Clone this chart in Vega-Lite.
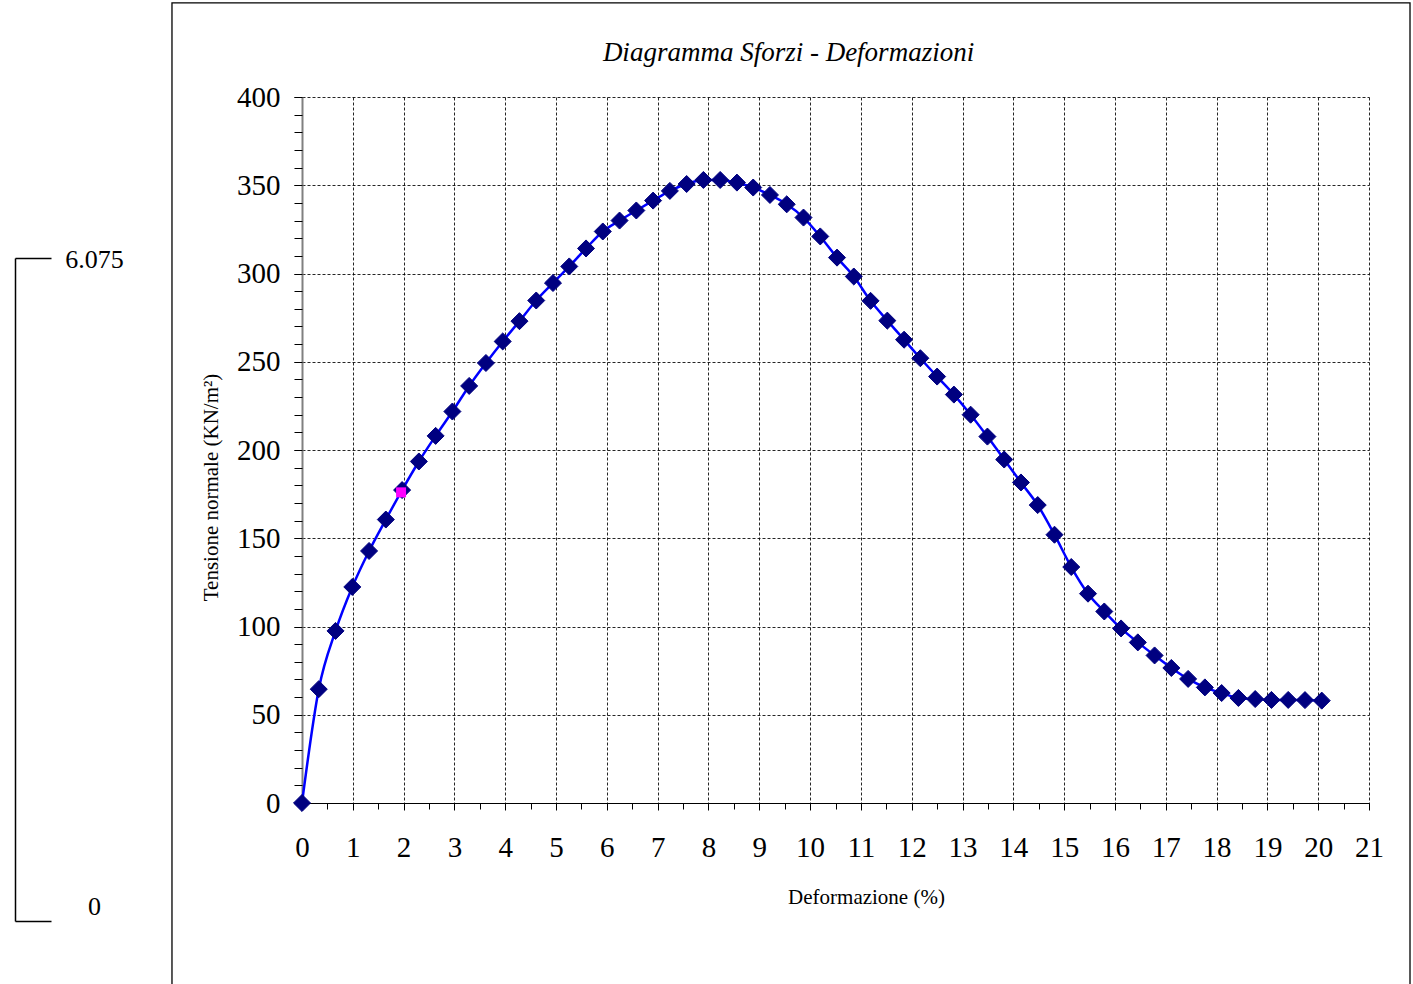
{
  "$schema": "https://vega.github.io/schema/vega-lite/v6.json",
  "width": 1067,
  "height": 706,
  "autosize": "none",
  "padding": {"left": 302, "top": 97, "right": 44, "bottom": 181},
  "background": "white",
  "config": {"view": {"stroke": null}, "font": "Liberation Serif"},
  "title": {
    "text": "Diagramma Sforzi - Deformazioni",
    "font": "Liberation Serif",
    "fontSize": 27,
    "fontStyle": "italic",
    "fontWeight": "normal",
    "color": "black",
    "anchor": "middle",
    "dx": -47,
    "offset": -86,
    "baseline": "alphabetic"
  },
  "datasets": {
    "curve": [
      {"def": 0, "stress": 0},
      {"def": 0.33, "stress": 64.5},
      {"def": 0.66, "stress": 97.5},
      {"def": 0.99, "stress": 122.4},
      {"def": 1.32, "stress": 142.8},
      {"def": 1.65, "stress": 160.6},
      {"def": 1.97, "stress": 177.3},
      {"def": 2.30, "stress": 193.5},
      {"def": 2.63, "stress": 208},
      {"def": 2.96, "stress": 221.8},
      {"def": 3.29, "stress": 236.3},
      {"def": 3.62, "stress": 249.3},
      {"def": 3.95, "stress": 261.5},
      {"def": 4.28, "stress": 273},
      {"def": 4.61, "stress": 284.7},
      {"def": 4.94, "stress": 294.6},
      {"def": 5.26, "stress": 304},
      {"def": 5.59, "stress": 314.2},
      {"def": 5.92, "stress": 323.8},
      {"def": 6.25, "stress": 330},
      {"def": 6.58, "stress": 335.7},
      {"def": 6.91, "stress": 341.3},
      {"def": 7.24, "stress": 346.8},
      {"def": 7.57, "stress": 350.7},
      {"def": 7.90, "stress": 353},
      {"def": 8.23, "stress": 353},
      {"def": 8.56, "stress": 351.5},
      {"def": 8.88, "stress": 348.7},
      {"def": 9.21, "stress": 344.5},
      {"def": 9.54, "stress": 339.2},
      {"def": 9.87, "stress": 331.7},
      {"def": 10.20, "stress": 321},
      {"def": 10.53, "stress": 309},
      {"def": 10.86, "stress": 298.3},
      {"def": 11.19, "stress": 284.5},
      {"def": 11.52, "stress": 273.3},
      {"def": 11.85, "stress": 262.5},
      {"def": 12.17, "stress": 252},
      {"def": 12.50, "stress": 241.6},
      {"def": 12.83, "stress": 231.4},
      {"def": 13.16, "stress": 220},
      {"def": 13.49, "stress": 207.6},
      {"def": 13.82, "stress": 194.6},
      {"def": 14.15, "stress": 181.6},
      {"def": 14.48, "stress": 168.8},
      {"def": 14.81, "stress": 152},
      {"def": 15.14, "stress": 133.7},
      {"def": 15.47, "stress": 118.6},
      {"def": 15.79, "stress": 108.5},
      {"def": 16.12, "stress": 98.9},
      {"def": 16.45, "stress": 91},
      {"def": 16.78, "stress": 83.6},
      {"def": 17.11, "stress": 76.5},
      {"def": 17.44, "stress": 70.3},
      {"def": 17.77, "stress": 65.5},
      {"def": 18.10, "stress": 62.3},
      {"def": 18.43, "stress": 59.5},
      {"def": 18.76, "stress": 58.9},
      {"def": 19.08, "stress": 58.4},
      {"def": 19.41, "stress": 58.4},
      {"def": 19.74, "stress": 58.3},
      {"def": 20.07, "stress": 58}
    ],
    "marker": [{"def": 1.95, "stress": 176}],
    "scalebar": [{"v": 0}, {"v": 6.075}]
  },
  "layer": [
    {
      "layer": [
        {
          "data": {"values": [{}]},
          "mark": {"type": "rect", "fill": "white", "fillOpacity": 0, "stroke": "black", "strokeWidth": 1.3, "clip": false},
          "encoding": {
            "x": {"datum": -2.559, "type": "quantitative", "scale": {"domain": [0, 21], "nice": false, "zero": false}, "axis": null},
            "x2": {"datum": 21.807},
            "y": {"datum": 453.3, "type": "quantitative", "scale": {"domain": [0, 400], "nice": false, "zero": false}, "axis": null},
            "y2": {"datum": -120}
          }
        },
        {
          "data": {"name": "curve"},
          "mark": {"type": "line", "color": "#0000FF", "strokeWidth": 2.5, "interpolate": "monotone"},
          "encoding": {
            "x": {
              "field": "def", "type": "quantitative",
              "scale": {"domain": [0, 21], "nice": false, "zero": false},
              "axis": {
                "orient": "bottom",
                "values": [0,1,2,3,4,5,6,7,8,9,10,11,12,13,14,15,16,17,18,19,20,21],
                "format": "d",
                "grid": true, "gridColor": "black", "gridDash": [3, 2], "gridWidth": 1, "gridOpacity": 0.85,
                "domainColor": "black", "domainWidth": 1.2,
                "ticks": true, "tickColor": "black", "tickSize": 7, "tickWidth": 1,
                "labelFont": "Liberation Serif", "labelFontSize": 29, "labelColor": "black", "labelPadding": 23, "labelFlush": false, "labelOverlap": false,
                "title": "Deformazione (%)", "titleFont": "Liberation Serif", "titleFontSize": 21, "titleFontWeight": "normal", "titleColor": "black",
                "titleX": 564, "titleY": 100, "titleBaseline": "alphabetic", "titleAlign": "center"
              }
            },
            "y": {
              "field": "stress", "type": "quantitative",
              "scale": {"domain": [0, 400], "nice": false, "zero": false},
              "axis": {
                "orient": "left",
                "values": [0, 50, 100, 150, 200, 250, 300, 350, 400],
                "grid": true, "gridColor": "black", "gridDash": [3, 2], "gridWidth": 1, "gridOpacity": 0.85,
                "domainColor": "#808080", "domainWidth": 2,
                "ticks": true, "tickColor": "black", "tickSize": 8, "tickWidth": 1,
                "labelFont": "Liberation Serif", "labelFontSize": 29, "labelColor": "black", "labelPadding": 14, "labelFlush": false, "labelOverlap": false,
                "title": "Tensione normale (KN/m²)", "titleFont": "Liberation Serif", "titleFontSize": 21, "titleFontWeight": "normal", "titleColor": "black",
                "titleX": -85, "titleY": 390, "titleBaseline": "alphabetic", "titleAlign": "center", "titleAngle": 270
              }
            }
          }
        },
        {
          "data": {"name": "curve"},
          "mark": {"type": "point", "shape": "diamond", "filled": true, "size": 290, "color": "#000080", "stroke": "#000080", "strokeWidth": 1, "opacity": 1},
          "encoding": {
            "x": {"field": "def", "type": "quantitative", "scale": {"domain": [0, 21], "nice": false, "zero": false}, "axis": null},
            "y": {"field": "stress", "type": "quantitative", "scale": {"domain": [0, 400], "nice": false, "zero": false}, "axis": null}
          }
        },
        {
          "data": {"name": "marker"},
          "mark": {"type": "square", "size": 100, "color": "#FF00FF", "opacity": 1},
          "encoding": {
            "x": {"field": "def", "type": "quantitative", "scale": {"domain": [0, 21], "nice": false, "zero": false}, "axis": null},
            "y": {"field": "stress", "type": "quantitative", "scale": {"domain": [0, 400], "nice": false, "zero": false}, "axis": null}
          }
        },
        {
          "data": {"name": "curve"},
          "mark": {"type": "point", "opacity": 0},
          "encoding": {
            "x": {
              "field": "def", "type": "quantitative",
              "scale": {"domain": [0, 21], "nice": false, "zero": false},
              "axis": {
                "orient": "bottom",
                "values": [0,0.5,1,1.5,2,2.5,3,3.5,4,4.5,5,5.5,6,6.5,7,7.5,8,8.5,9,9.5,10,10.5,11,11.5,12,12.5,13,13.5,14,14.5,15,15.5,16,16.5,17,17.5,18,18.5,19,19.5,20,20.5,21],
                "labels": false, "grid": false, "domain": false, "ticks": true, "tickColor": "black", "tickSize": 6, "tickWidth": 1, "title": null
              }
            },
            "y": {
              "field": "stress", "type": "quantitative",
              "scale": {"domain": [0, 400], "nice": false, "zero": false},
              "axis": {
                "orient": "left",
                "values": [0,10,20,30,40,50,60,70,80,90,100,110,120,130,140,150,160,170,180,190,200,210,220,230,240,250,260,270,280,290,300,310,320,330,340,350,360,370,380,390,400],
                "labels": false, "grid": false, "domain": false, "ticks": true, "tickColor": "black", "tickSize": 8, "tickWidth": 1, "title": null
              }
            }
          }
        }
      ],
      "resolve": {"axis": {"x": "independent", "y": "independent"}}
    },
    {
      "data": {"name": "scalebar"},
      "mark": {"type": "point", "opacity": 0},
      "encoding": {
        "x": {"datum": 0, "type": "quantitative", "scale": {"domain": [0, 21], "nice": false, "zero": false}, "axis": null},
        "y": {
          "field": "v", "type": "quantitative",
          "scale": {"domain": [0, 6.075], "range": [824, 161], "nice": false, "zero": false},
          "axis": {
            "orient": "right", "offset": -1354,
            "values": [0, 6.075], "format": ".3~f",
            "grid": false,
            "domainColor": "black", "domainWidth": 1.5,
            "ticks": true, "tickColor": "black", "tickWidth": 1.5, "tickSize": 36,
            "labelFont": "Liberation Serif", "labelFontSize": 26, "labelColor": "black",
            "labelAlign": "center", "labelPadding": 43, "labelFlush": true, "labelFlushOffset": 5, "labelOffset": -7, "labelOverlap": false,
            "title": null
          }
        }
      }
    }
  ],
  "resolve": {"scale": {"y": "independent"}, "axis": {"x": "independent", "y": "independent"}}
}
